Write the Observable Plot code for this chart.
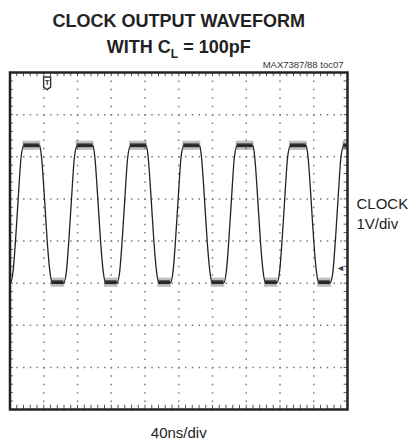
<!DOCTYPE html>
<html>
<head>
<meta charset="utf-8">
<script src="https://cdn.jsdelivr.net/npm/d3@7"></script>
<script src="https://cdn.jsdelivr.net/npm/@observablehq/plot@0.6"></script>
<style>
  html, body { margin: 0; padding: 0; background: #fff; }
  #chart { width: 409px; height: 442px; }
</style>
</head>
<body>
<div id="chart"></div>
<script>
// ---- Data (time in ns, level in V, 1 V/div, screen centre = 0) ----
const timeNs = [
  0, 0.5, 3.7, 6.5, 9.7, 13.2, 16.4,
  35.3, 37.3, 40.9, 44.1, 47.2, 50.0, 63.7, 66.9, 69.7, 72.9, 76.4, 79.6,
  98.5, 100.5, 104.1, 107.3, 110.4, 113.2, 126.9, 130.1, 132.9, 136.1, 139.6, 142.8,
  161.7, 163.7, 167.3, 170.5, 173.6, 176.4, 190.1, 193.3, 196.1, 199.3, 202.8, 206.0,
  224.9, 226.9, 230.5, 233.7, 236.8, 239.6, 253.3, 256.5, 259.3, 262.5, 266.0, 269.2,
  288.0, 290.0, 293.6, 296.8, 299.9, 302.7, 316.4, 319.6, 322.4, 325.6, 329.1, 332.3,
  351.2, 353.2, 356.8, 360.0, 363.1, 365.9, 379.6, 382.8, 385.6, 388.8, 392.3, 395.5,
  400
];
const clockV = [
  -0.99, -0.99, -0.71, 0, 1.0, 2.0, 2.26,
  2.26, 2.0, 1.0, 0, -0.71, -0.99, -0.99, -0.71, 0, 1.0, 2.0, 2.26,
  2.26, 2.0, 1.0, 0, -0.71, -0.99, -0.99, -0.71, 0, 1.0, 2.0, 2.26,
  2.26, 2.0, 1.0, 0, -0.71, -0.99, -0.99, -0.71, 0, 1.0, 2.0, 2.26,
  2.26, 2.0, 1.0, 0, -0.71, -0.99, -0.99, -0.71, 0, 1.0, 2.0, 2.26,
  2.26, 2.0, 1.0, 0, -0.71, -0.99, -0.99, -0.71, 0, 1.0, 2.0, 2.26,
  2.26, 2.0, 1.0, 0, -0.71, -0.99, -0.99, -0.71, 0, 1.0, 2.0, 2.26,
  2.26
];
// noisy plateaus
const highStart = [16.4, 79.6, 142.8, 206.0, 269.2, 332.3, 395.5];
const highEnd   = [35.3, 98.5, 161.7, 224.9, 288.0, 351.2, 400];
const lowStart  = [50.0, 113.2, 176.4, 239.6, 302.7, 365.9];
const lowEnd    = [63.7, 126.9, 190.1, 253.3, 316.4, 379.6];
const highLevel = 2.26;
const lowLevel = -0.99;
const noiseCore = 0.045;
const noiseOuter = 0.085;
// markers
const triggerTime = 44;
const triggerLevel = 3.75;
const groundLevel = -0.64;
// graticule: 10 x 40 ns, 8 x 1 V
const xGrid = [0, 40, 80, 120, 160, 200, 240, 280, 320, 360, 400];
const yGrid = [-4, -3, -2, -1, 0, 1, 2, 3, 4];
const xMinor = d3.range(0, 400.001, 8);
const yMinor = d3.range(-4, 4.001, 0.2);

const titleLine1 = "CLOCK OUTPUT WAVEFORM";
const titleLine2 = "WITH CL = 100pF";
const tocLabel = "MAX7387/88 toc07";
const chLabel = "CLOCK";
const chScale = "1V/div";
const timeScale = "40ns/div";

const font = "'Liberation Sans', Arial, Helvetica, sans-serif";
const W = 409, H = 442;
const mL = 9.5, mR = 62, mT = 72, mB = 33;
const plotW = W - mL - mR, plotH = H - mT - mB;
const dotH = (plotW / 50);
const dotV = (plotH / 40);

const wave = timeNs.map((t, i) => ({t, v: clockV[i]}));
const bands = (starts, ends, level, half) =>
  starts.map((s, i) => ({x1: s, x2: ends[i], y1: level - half, y2: level + half}));

// trigger icon: box with a pointed bottom
const triggerSymbol = {
  draw(ctx) {
    ctx.moveTo(-3.5, -6); ctx.lineTo(3.5, -6); ctx.lineTo(3.5, 4);
    ctx.lineTo(0, 6.5); ctx.lineTo(-3.5, 4); ctx.closePath();
  }
};

const chart = Plot.plot({
  width: W, height: H,
  marginLeft: mL, marginRight: mR, marginTop: mT, marginBottom: mB,
  x: {domain: [0, 400], axis: null},
  y: {domain: [-4, 4], axis: null},
  style: {fontFamily: font, background: "#fff", color: "#222"},
  marks: [
    // dotted graticule
    Plot.ruleX(xGrid.slice(1, -1), {stroke: "#7a7a7a", strokeWidth: 1.5, strokeDasharray: `1.5,${(dotV - 1.5).toFixed(3)}`}),
    Plot.ruleY(yGrid.slice(1, -1), {stroke: "#7a7a7a", strokeWidth: 1.5, strokeDasharray: `1.5,${(dotH - 1.5).toFixed(3)}`}),
    // minor ticks on the frame
    Plot.ruleX(xMinor, {y1: -4, y2: -3.9, stroke: "#555", strokeWidth: 1}),
    Plot.ruleX(xMinor, {y1: 3.9, y2: 4, stroke: "#555", strokeWidth: 1}),
    Plot.ruleY(yMinor, {x1: 0, x2: 4, stroke: "#555", strokeWidth: 1}),
    Plot.ruleY(yMinor, {x1: 396, x2: 400, stroke: "#555", strokeWidth: 1}),
    // noise on the plateaus
    Plot.rect(bands(highStart, highEnd, highLevel, noiseOuter), {x1: "x1", x2: "x2", y1: "y1", y2: "y2", fill: "#444", fillOpacity: 0.35, inset: -1, clip: true}),
    Plot.rect(bands(lowStart, lowEnd, lowLevel, noiseOuter), {x1: "x1", x2: "x2", y1: "y1", y2: "y2", fill: "#444", fillOpacity: 0.35, inset: -1, clip: true}),
    Plot.rect(bands(highStart, highEnd, highLevel, noiseCore), {x1: "x1", x2: "x2", y1: "y1", y2: "y2", fill: "#222", fillOpacity: 0.9, clip: true}),
    Plot.rect(bands(lowStart, lowEnd, lowLevel, noiseCore), {x1: "x1", x2: "x2", y1: "y1", y2: "y2", fill: "#222", fillOpacity: 0.9, clip: true}),
    // trace
    Plot.line(wave, {x: "t", y: "v", curve: "monotone-x", stroke: "#222", strokeWidth: 1.3, clip: true}),
    // trigger marker
    Plot.dot([triggerTime], {x: d => d, y: triggerLevel, symbol: triggerSymbol, fill: "#fff", stroke: "#333", strokeWidth: 1.4}),
    Plot.text([triggerTime], {x: d => d, y: triggerLevel, text: () => "T", dy: -0.5, fontSize: 8, fontWeight: "bold", fill: "#333"}),
    // ground marker
    Plot.text([groundLevel], {x: 400, y: d => d, text: () => "◄", textAnchor: "end", dx: -2.5, fontSize: 9, fill: "#444"}),
    Plot.frame({stroke: "#222", strokeWidth: 2.5}),
    // texts
    Plot.text([titleLine1], {frameAnchor: "top", dy: -46, lineAnchor: "bottom", fontSize: 18, fontWeight: "bold", fill: "#222"}),
    Plot.text([titleLine2], {frameAnchor: "top", dy: -20, lineAnchor: "bottom", fontSize: 18, fontWeight: "bold", fill: "#222"}),
    Plot.text([tocLabel], {frameAnchor: "top-right", dx: -4, dy: -5, lineAnchor: "bottom", textAnchor: "end", fontSize: 9.5, fill: "#333"}),
    Plot.text([chLabel], {frameAnchor: "right", dx: 9, dy: -32.5, lineAnchor: "bottom", textAnchor: "start", fontSize: 15, fill: "#222"}),
    Plot.text([chScale], {frameAnchor: "right", dx: 9, dy: -12.5, lineAnchor: "bottom", textAnchor: "start", fontSize: 15, fill: "#222"}),
    Plot.text([timeScale], {frameAnchor: "bottom", dy: 28, lineAnchor: "bottom", fontSize: 15, fill: "#222"})
  ]
});

// subscript "L" in the second title line
chart.querySelectorAll("text").forEach(t => {
  if (t.textContent === titleLine2) {
    t.textContent = "";
    const ns = "http://www.w3.org/2000/svg";
    const a = document.createElementNS(ns, "tspan"); a.textContent = "WITH C";
    const b = document.createElementNS(ns, "tspan"); b.textContent = "L"; b.setAttribute("font-size", "12"); b.setAttribute("dy", "5");
    const c = document.createElementNS(ns, "tspan"); c.textContent = " = 100pF"; c.setAttribute("dy", "-5");
    t.append(a, b, c);
  }
});
document.getElementById("chart").appendChild(chart);
</script>
</body>
</html>
